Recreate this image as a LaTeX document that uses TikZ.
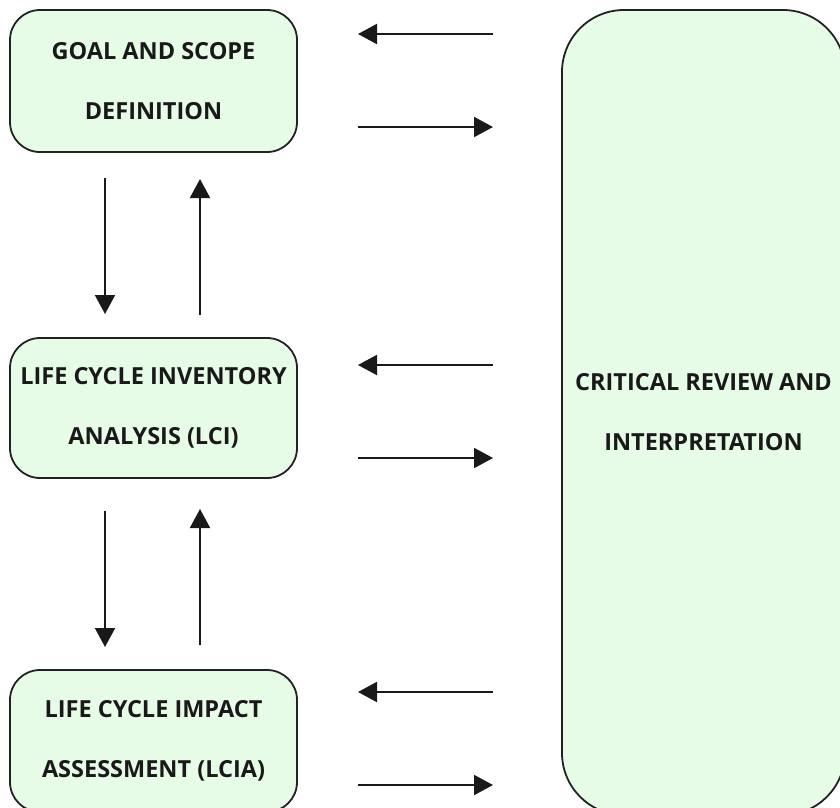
\documentclass[tikz,border=0pt]{standalone}
\usepackage{fontspec}
\setmainfont{Open Sans}
\usetikzlibrary{arrows.meta}
\definecolor{boxfill}{HTML}{E7FCE7}
\definecolor{boxline}{HTML}{222222}
\tikzset{
  stage/.style={draw=boxline, fill=boxfill, line width=1.8pt, rounded corners=30pt,
    minimum width=287pt, minimum height=142pt, inner sep=0pt, align=center,
    font=\fontsize{23.5}{60}\selectfont\bfseries, text=black!90},
  bigbox/.style={draw=boxline, fill=boxfill, line width=1.8pt, rounded corners=62pt,
    minimum width=283pt, minimum height=805pt, inner sep=0pt, align=center,
    font=\fontsize{23.5}{60}\selectfont\bfseries, text=black!90},
  arr/.style={line width=2pt, draw=black!90, -{Triangle[length=19pt,width=20pt]}},
}
\begin{document}
\begin{tikzpicture}[x=1pt,y=-1pt]
\useasboundingbox (0,0) rectangle (840,807);
% boxes
\node[stage] (goal) at (153.5,81) {GOAL AND SCOPE\\DEFINITION};
\node[stage, minimum height=140pt] (lci) at (153.5,408) {LIFE CYCLE INVENTORY\\ANALYSIS (LCI)};
\node[stage] (lcia) at (153.5,741) {LIFE CYCLE IMPACT\\ASSESSMENT (LCIA)};
\node[bigbox] (crit) at (703.5,412.5) {CRITICAL REVIEW AND\\INTERPRETATION};
% horizontal arrow coordinates
\coordinate (a1) at (493,34);  \coordinate (b1) at (358,34);
\coordinate (a2) at (358,127); \coordinate (b2) at (493,127);
\coordinate (a3) at (493,365); \coordinate (b3) at (358,365);
\coordinate (a4) at (358,458); \coordinate (b4) at (493,458);
\coordinate (a5) at (493,692); \coordinate (b5) at (358,692);
\coordinate (a6) at (358,785); \coordinate (b6) at (493,785);
% vertical arrow coordinates
\coordinate (v1s) at (105,178); \coordinate (v1e) at (105,314);
\coordinate (v2s) at (200,315); \coordinate (v2e) at (200,179);
\coordinate (v3s) at (105,511); \coordinate (v3e) at (105,647);
\coordinate (v4s) at (200,645); \coordinate (v4e) at (200,509);
\foreach \s/\e in {a1/b1,a2/b2,a3/b3,a4/b4,a5/b5,a6/b6,v1s/v1e,v2s/v2e,v3s/v3e,v4s/v4e}
  \draw[arr] (\s) -- (\e);
\end{tikzpicture}
\end{document}
